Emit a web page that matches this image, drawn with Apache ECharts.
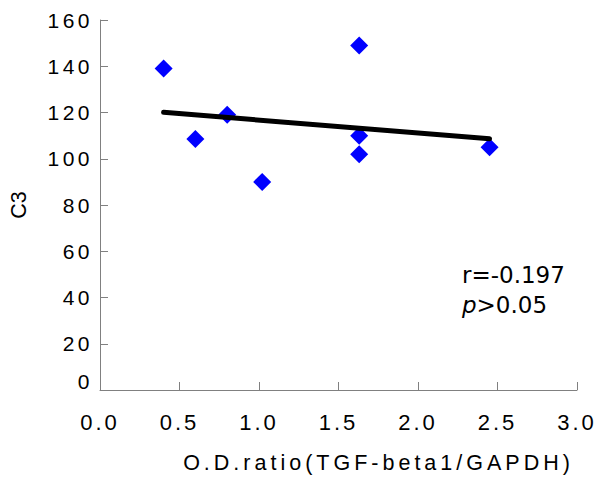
<!DOCTYPE html>
<html>
<head>
<meta charset="utf-8">
<script src="https://cdn.jsdelivr.net/npm/echarts@6/dist/echarts.min.js"></script>
<style>
  html, body { margin: 0; padding: 0; background: #fff; }
  #main { width: 613px; height: 479px; }
</style>
</head>
<body>
<div id="main"></div>
<script>
// Data
const xValues = [0.4, 0.6, 0.8, 1.02, 1.63, 1.63, 1.63, 2.45];
const yValues = [139, 108.5, 119, 90, 149, 110, 102, 105];
// fitted trend line endpoints as drawn
const trendX = [0.4, 2.45];
const trendY = [120.1, 108.6];
// tick labels
const xTicks = ['0.0', '0.5', '1.0', '1.5', '2.0', '2.5', '3.0'];
const yTicks = ['0', '20', '40', '60', '80', '100', '120', '140', '160'];
const xName = 'O.D.ratio(TGF-beta1/GAPDH)';
const yName = 'C3';
const statR = 'r=-0.197';
const statP = '>0.05';

const axisFont = 'Liberation Sans';
const scatterData = xValues.map((x, i) => [x, yValues[i]]);
const trendData = trendX.map((x, i) => [x, trendY[i]]);

const chart = echarts.init(document.getElementById('main'), null, { renderer: 'svg' });
chart.setOption({
  animation: false,
  backgroundColor: '#ffffff',
  grid: { left: 95, right: 36, top: 20, bottom: 88 },
  xAxis: {
    type: 'value', min: 0, max: 3, interval: 0.5,
    name: xName, nameLocation: 'middle', nameGap: 62,
    nameTextStyle: { fontFamily: axisFont, fontSize: 21.5, color: '#000', padding: [0, 0, 0, 80] },
    axisLine: { show: true, lineStyle: { color: '#808080', width: 1 } },
    axisTick: { show: true, inside: true, length: 8, lineStyle: { color: '#808080' } },
    splitLine: { show: false },
    axisLabel: {
      margin: 21, fontFamily: axisFont, fontSize: 22, color: '#000',
      formatter: v => xTicks[Math.round(v / 0.5)]
    }
  },
  yAxis: {
    type: 'value', min: 0, max: 160, interval: 20,
    name: yName, nameLocation: 'middle', nameGap: 70, nameRotate: 90,
    nameTextStyle: { fontFamily: axisFont, fontSize: 21.5, color: '#000' },
    axisLine: { show: true, lineStyle: { color: '#808080', width: 1 } },
    axisTick: { show: true, inside: true, length: 8, lineStyle: { color: '#808080' } },
    splitLine: { show: false },
    axisLabel: {
      margin: 7, fontFamily: axisFont, fontSize: 21, color: '#000',
      formatter: v => {
        const s = yTicks[Math.round(v / 20)];
        return v === 0 ? '{z|' + s + '}' : s;
      },
      rich: { z: { fontFamily: axisFont, fontSize: 21, color: '#000', padding: [0, 0, 18, 0] } }
    }
  },
  series: [
    {
      type: 'scatter', data: scatterData, symbol: 'diamond', symbolSize: 18,
      itemStyle: { color: '#0000ff', opacity: 1 }, z: 2
    },
    {
      type: 'line', data: trendData, showSymbol: false, symbol: 'none',
      lineStyle: { color: '#000', width: 5, cap: 'round' }, z: 3
    }
  ],
  graphic: [
    { type: 'text', left: 462, top: 263,
      style: { text: statR, fontFamily: 'DejaVu Sans', fontSize: 23, fill: '#000' } },
    { type: 'text', left: 462, top: 293,
      style: { text: '{i|p}' + statP, fontFamily: 'DejaVu Sans', fontSize: 23, fill: '#000',
        rich: { i: { fontFamily: 'DejaVu Sans', fontSize: 23, fontStyle: 'italic', color: '#000' } } } }
  ]
});

function applySpacing() {
  document.querySelectorAll('#main svg text').forEach(t => {
    const s = t.textContent;
    let ls = null;
    if (s.indexOf('ratio') >= 0) ls = 4;
    else if (/^\d\.\d$/.test(s)) ls = 3;
    else if (/^\d+$/.test(s)) ls = 3.5;
    if (ls !== null) t.style.letterSpacing = ls + 'px';
  });
}
applySpacing();
chart.on('finished', applySpacing);
setTimeout(applySpacing, 50);
</script>
</body>
</html>
